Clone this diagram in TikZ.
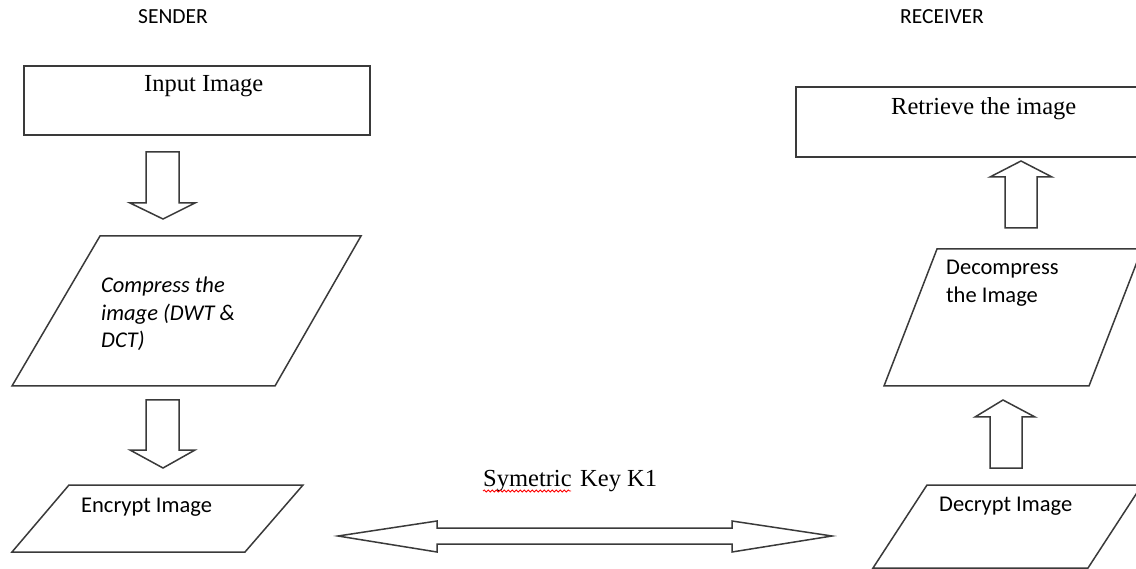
\documentclass[tikz,border=0pt]{standalone}
\usepackage{fontspec}
\setmainfont{Liberation Serif}
\newfontfamily\calfont{Carlito}
\usetikzlibrary{decorations.pathmorphing}
\definecolor{edge}{HTML}{3A3A3A}
\tikzset{
  shapeline/.style={draw=edge, line width=1.5pt, line join=miter, fill=white},
  serifl/.style={inner sep=0pt, anchor=base west, font=\fontsize{24.5}{28}\selectfont},
  sansl/.style={inner sep=0pt, anchor=base west, font=\calfont\fontsize{22.5}{27}\selectfont},
  sansit/.style={sansl, font=\calfont\itshape\fontsize{22.5}{27}\selectfont},
  headl/.style={inner sep=0pt, anchor=base west, font=\calfont\fontsize{21.5}{24}\selectfont},
}
\begin{document}
\begin{tikzpicture}[x=1pt,y=-1pt]
\useasboundingbox (0,0) rectangle (1136,569);
\clip (0,0) rectangle (1136,569);
\fill[white] (0,0) rectangle (1136,569);

% headings
\node[headl] (sender) at (138,24) {SENDER};
\node[headl] (receiver) at (900,24) {RECEIVER};

% sender side
\draw[shapeline] (24,66) rectangle (370,135);
\node[serifl] (input) at (144,92) {Input Image};

\draw[shapeline] (146,152) -- (179,152) -- (179,203) -- (195,203) -- (163,219) -- (130,203) -- (146,203) -- cycle;

\draw[shapeline] (100,236) -- (361,236) -- (275,386) -- (12,386) -- cycle;
\node[sansit] (compress1) at (101,293) {Compress the};
\node[sansit] (compress2) at (101,321) {image (DWT \&};
\node[sansit] (compress3) at (101,348) {DCT)};

\draw[shapeline] (146,400) -- (179,400) -- (179,450) -- (195,450) -- (163,468) -- (130,450) -- (146,450) -- cycle;

\draw[shapeline] (69,485) -- (303,485) -- (245,552) -- (12,552) -- cycle;
\node[sansl] (encrypt) at (81,512) {Encrypt Image};

% key exchange
\node[serifl] (key) at (483,486) {Symetric\hspace{0.35em}Key K1};
\draw[red, line width=0.8pt, decorate, decoration={snake, amplitude=1.1pt, segment length=4pt}] (483,491) -- (571,491);
\draw[shapeline] (338,536) -- (437,521) -- (437,528) -- (732,528) -- (732,521) -- (832,536) -- (732,552) -- (732,544) -- (437,544) -- (437,552) -- cycle;

% receiver side
\draw[shapeline] (796,87) rectangle (1150,157);
\node[serifl] (retrieve) at (891,115) {Retrieve the image};

\draw[shapeline] (1021,161) -- (1052,177) -- (1037,177) -- (1037,228) -- (1005,228) -- (1005,177) -- (990,177) -- cycle;

\draw[shapeline] (937,249) -- (1142,249) -- (1089,386) -- (884,386) -- cycle;
\node[sansl] (decomp1) at (946,275) {Decompress};
\node[sansl] (decomp2) at (946,303) {the Image};

\draw[shapeline] (1003,400) -- (1035,417) -- (1022,417) -- (1022,468) -- (990,468) -- (990,417) -- (975,417) -- cycle;

\draw[shapeline] (927,485) -- (1142,485) -- (1088,568) -- (873,568) -- cycle;
\node[sansl] (decrypt) at (939,511) {Decrypt Image};
\end{tikzpicture}
\end{document}
